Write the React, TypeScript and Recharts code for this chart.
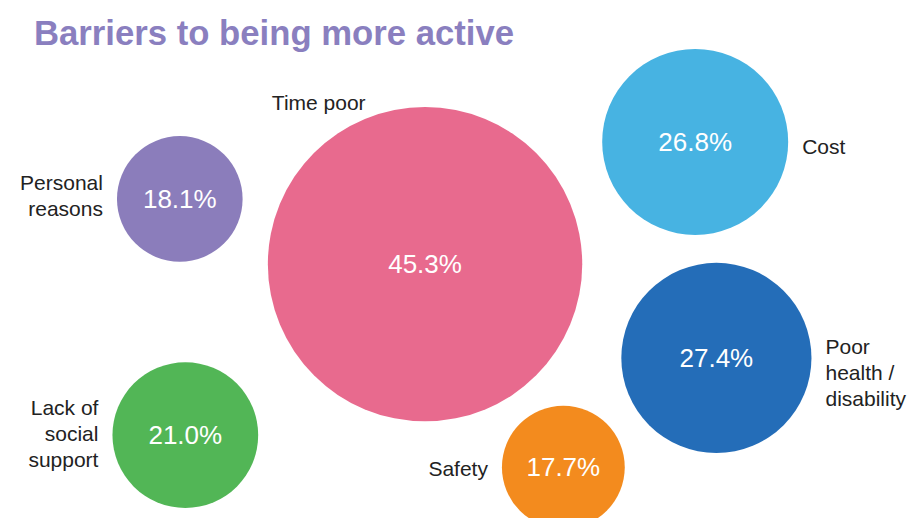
import { Scatter, ScatterChart, XAxis, YAxis, ZAxis } from 'recharts';

const categories = ['Personal reasons', 'Time poor', 'Cost', 'Poor health / disability', 'Lack of social support', 'Safety'];
const labelLines = [['Personal', 'reasons'], ['Time poor'], ['Cost'], ['Poor', 'health /', 'disability'], ['Lack of', 'social', 'support'], ['Safety']];
const values = [18.1, 45.3, 26.8, 27.4, 21.0, 17.7];
// bubble placement on a 0-100 layout grid
const xPos = [19.5, 46.1, 75.4, 77.7, 20.1, 61.1];
const yPos = [38.4, 51.0, 27.4, 69.1, 84.0, 90.2];
const colors = ['#8B7DBB', '#E86A8E', '#47B3E2', '#246DB8', '#52B656', '#F38B1E'];
const labelSide = ['left', 'topLeft', 'right', 'right', 'left', 'left'];
const labelShift = [-4, 0, 4, 14, -2, 1];

const data = categories.map((name, i) => ({
  name,
  x: xPos[i],
  y: yPos[i],
  value: values[i],
  idx: i,
}));

const FONT = '"Liberation Sans", Arial, Helvetica, sans-serif';
const LINE_H = 26;

const Bubble = (props: any) => {
  const { cx, cy, payload } = props;
  const r = props.size ?? Math.PI * Math.pow((props.width ?? 0) / 2, 2);
  const i = payload.idx;
  const lines = labelLines[i];
  const side = labelSide[i];
  const gap = 14;
  let tx = cx;
  let anchor: 'start' | 'end' = 'start';
  let firstY = cy - ((lines.length - 1) * LINE_H) / 2 + labelShift[i];
  if (side === 'left') {
    tx = cx - r - gap;
    anchor = 'end';
  } else if (side === 'right') {
    tx = cx + r + gap;
  } else {
    tx = cx - r + 4;
    firstY = cy - r - 5;
  }
  return (
    <g>
      <circle cx={cx} cy={cy} r={r} fill={colors[i]} />
      <text x={cx} y={cy} fill="#ffffff" fontSize={26} fontFamily={FONT} textAnchor="middle" dominantBaseline="central">
        {`${payload.value.toFixed(1)}%`}
      </text>
      <text x={tx} y={firstY} fill="#222222" fontSize={21} fontFamily={FONT} textAnchor={anchor} dominantBaseline="central">
        {lines.map((l: string, k: number) => (
          <tspan key={l} x={tx} dy={k === 0 ? 0 : LINE_H}>
            {l}
          </tspan>
        ))}
      </text>
    </g>
  );
};

export default function App() {
  return (
    <div style={{ position: 'absolute', left: 0, top: 0, width: 922, height: 518, background: '#ffffff', overflow: 'hidden' }}>
      <ScatterChart width={922} height={518} margin={{ top: 0, right: 0, bottom: 0, left: 0 }}>
        <XAxis type="number" dataKey="x" domain={[0, 100]} hide />
        <YAxis type="number" dataKey="y" domain={[0, 100]} reversed hide />
        <ZAxis type="number" dataKey="value" domain={[0, 50]} range={[0, 173.5]} />
        <Scatter data={data} shape={Bubble} isAnimationActive={false} />
      </ScatterChart>
      <div
        style={{
          position: 'absolute',
          left: 34,
          top: 16,
          fontFamily: FONT,
          fontWeight: 'bold',
          fontSize: 34.7,
          lineHeight: '34px',
          color: '#8A7FBF',
          whiteSpace: 'nowrap',
        }}
      >
        Barriers to being more active
      </div>
    </div>
  );
}
